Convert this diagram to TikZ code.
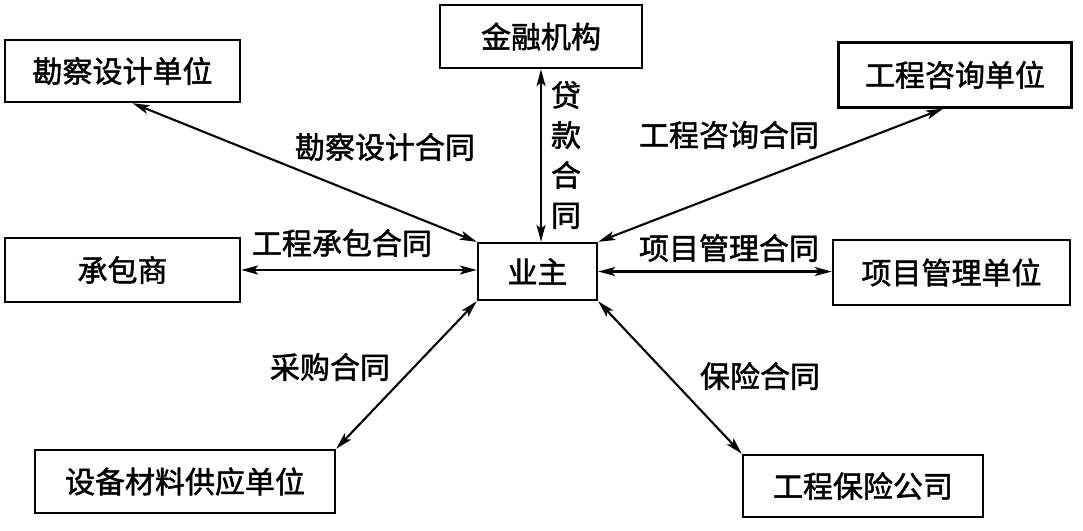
\documentclass[tikz,border=0pt]{standalone}
\usepackage{fontspec}
\newfontfamily\cjk{Noto Sans CJK SC}[FakeBold=1.6]
\usetikzlibrary{arrows.meta,calc}
\begin{document}
\begin{tikzpicture}[x=1pt,y=-1pt,
  box/.style={draw, line width=2.4pt, inner sep=0pt, font=\cjk\fontsize{30}{36}\selectfont},
  lab/.style={inner sep=0pt, font=\cjk\fontsize{30}{36}\selectfont},
  tip/.tip={Stealth[length=17pt,width=9pt,inset=4pt]},
  conn/.style={line width=2.1pt, tip-tip}]
\useasboundingbox (0,0) rectangle (1083,530);
% boxes
\node[box, minimum width=202pt, minimum height=63pt] (jr) at (541,36.5) {金融机构};
\node[box, minimum width=235pt, minimum height=62pt] (kc) at (122.5,71) {勘察设计单位};
\node[box, minimum width=233pt, minimum height=65pt] (zx) at (955,75) {工程咨询单位};
\node[box, minimum width=235pt, minimum height=64pt] (cb) at (122.5,270) {承包商};
\node[box, minimum width=119pt, minimum height=57pt] (yz) at (537.5,271.5) {业主};
\node[box, minimum width=237pt, minimum height=65pt] (xm) at (951.5,272.5) {项目管理单位};
\node[box, minimum width=300pt, minimum height=63pt] (sb) at (185,481.5) {设备材料供应单位};
\node[box, minimum width=240pt, minimum height=62pt] (bx) at (863,486) {工程保险公司};
% connectors
\draw[conn] ($(kc.south)+(10,0)$) -- (yz.north west);
\draw[conn] (cb.east) -- (cb.east -| yz.west);
\draw[conn] (jr.south) -- (jr.south |- yz.north);
\draw[conn] (yz.north east) -- ($(zx.south)+(-12,0)$);
\draw[conn] (yz.east) -- (yz.east -| xm.west);
\draw[conn] (yz.south west) -- (sb.north east);
\draw[conn] (yz.south east) -- (bx.north west);
% labels
\node[lab] (l1) at (385,147) {勘察设计合同};
\node[lab] (l2) at (342,243) {工程承包合同};
\node[lab, align=center, font=\cjk\fontsize{30}{40}\selectfont] (l3) at (566,155) {贷\\款\\合\\同};
\node[lab] (l4) at (729,135) {工程咨询合同};
\node[lab] (l5) at (729,248) {项目管理合同};
\node[lab] (l6) at (330,367) {采购合同};
\node[lab] (l7) at (760,376) {保险合同};
\end{tikzpicture}
\end{document}
